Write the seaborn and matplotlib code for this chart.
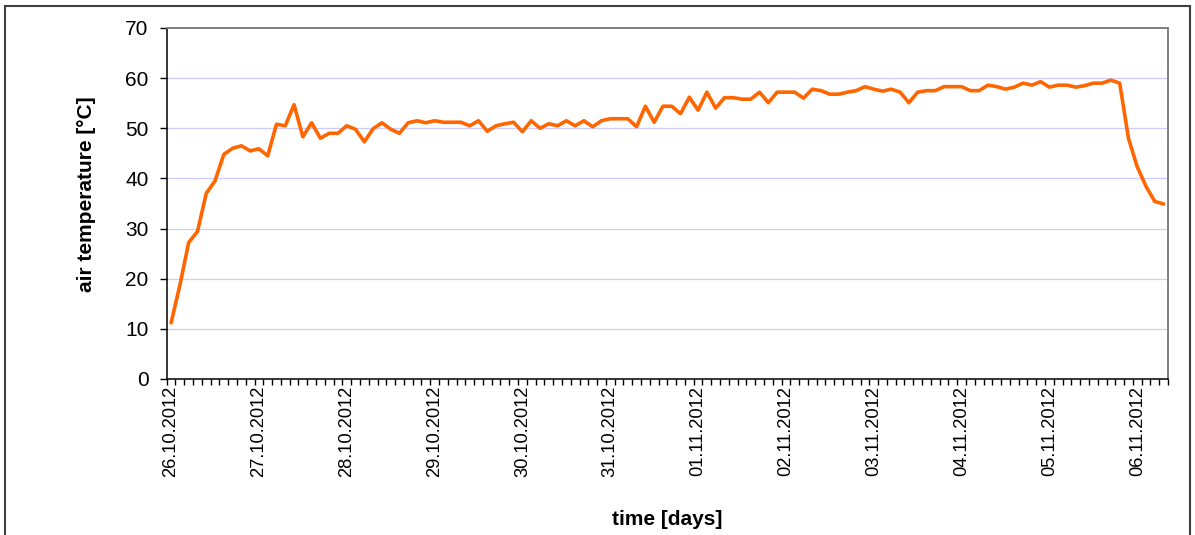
import numpy as np
import pandas as pd
import matplotlib
matplotlib.use('Agg')
import matplotlib.pyplot as plt
from matplotlib.patches import Rectangle
import seaborn as sns

# air temperature readings, 10 per day
temperature = [
    11.2, 18.7, 27.2, 29.4, 37.0, 39.5, 44.8, 46.0, 46.5, 45.5,
    45.9, 44.5, 50.8, 50.5, 54.7, 48.3, 51.1, 48.0, 49.0, 49.0,
    50.5, 49.8, 47.3, 49.9, 51.1, 49.8, 49.0, 51.1, 51.5, 51.1,
    51.5, 51.2, 51.2, 51.2, 50.5, 51.5, 49.4, 50.5, 50.9, 51.2,
    49.3, 51.5, 50.0, 50.9, 50.5, 51.5, 50.5, 51.5, 50.3, 51.5,
    51.9, 51.9, 51.9, 50.3, 54.4, 51.2, 54.4, 54.4, 52.9, 56.2,
    53.6, 57.2, 54.0, 56.1, 56.1, 55.8, 55.8, 57.2, 55.1, 57.2,
    57.2, 57.2, 56.0, 57.8, 57.5, 56.8, 56.8, 57.2, 57.5, 58.3,
    57.8, 57.4, 57.8, 57.2, 55.1, 57.2, 57.5, 57.5, 58.3, 58.3,
    58.3, 57.5, 57.5, 58.6, 58.3, 57.8, 58.2, 59.0, 58.6, 59.3,
    58.2, 58.6, 58.6, 58.2, 58.5, 59.0, 59.0, 59.6, 59.0, 48.0,
    42.3, 38.4, 35.4, 34.9,
]
day_labels = ['26.10.2012', '27.10.2012', '28.10.2012', '29.10.2012',
              '30.10.2012', '31.10.2012', '01.11.2012', '02.11.2012',
              '03.11.2012', '04.11.2012', '05.11.2012', '06.11.2012']
points_per_day = 10
y_ticks = [0, 10, 20, 30, 40, 50, 60, 70]

df = pd.DataFrame({'step': np.arange(len(temperature)), 'temp': temperature})
n = len(df)

sns.set_style('white')
plt.rcParams['font.family'] = ['Liberation Sans', 'DejaVu Sans']
for key in ['text.color', 'axes.labelcolor', 'xtick.color', 'ytick.color']:
    plt.rcParams[key] = 'black'

fig = plt.figure(figsize=(11.95, 5.35), dpi=100)
ax = fig.add_axes([0.1395, 0.2916, 0.8379, 0.6561])

sns.lineplot(data=df, x='step', y='temp', ax=ax, color='#ff6600', linewidth=2.6)

ax.set_xlim(-0.5, n - 0.5)
ax.set_ylim(0, 70)

# category boundaries get the tick marks, day labels sit on category centres
ax.set_xticks(np.arange(-0.5, n, 1.0), minor=True)
ax.set_xticks(np.arange(0, len(day_labels) * points_per_day, points_per_day))
ax.set_xticklabels(day_labels, rotation=90, fontsize=13.2, va='top', ha='center')
ax.tick_params(axis='x', which='major', length=0, pad=5)
ax.tick_params(axis='x', which='minor', length=4, width=1, color='black', direction='out', bottom=True)

ax.set_yticks(y_ticks)
ax.tick_params(axis='y', length=5, width=1, color='black', direction='out', left=True,
               labelsize=15, pad=8)

for v in y_ticks[1:-1]:
    ax.axhline(v, color='#ccccff', linewidth=0.9, zorder=0)

ax.set_xlabel('time [days]', fontsize=15, fontweight='bold', va='center')
ax.xaxis.set_label_coords(0.5, -0.399)
ax.set_ylabel('air temperature [°C]', fontsize=15, fontweight='bold', va='center')
ax.yaxis.set_label_coords(-0.0796, 0.526)

for side in ['left', 'bottom']:
    ax.spines[side].set_color('black')
    ax.spines[side].set_linewidth(1.1)
for side in ['top', 'right']:
    ax.spines[side].set_color('#808080')
    ax.spines[side].set_linewidth(1.4)

# outer chart frame
fig.add_artist(Rectangle((5 / 1195, -0.02), 1185 / 1195, 1.02 - 6 / 535,
                         transform=fig.transFigure, fill=False,
                         edgecolor='#404040', linewidth=1.5))

fig.savefig('out.png', dpi=100)
